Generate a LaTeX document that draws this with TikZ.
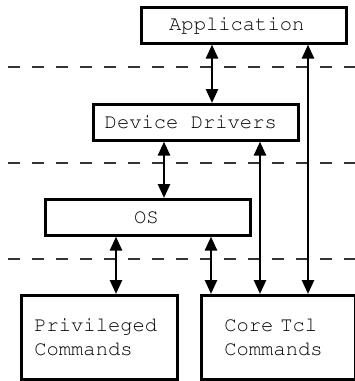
\documentclass[tikz,border=0pt]{standalone}
\usepackage[T1]{fontenc}
\usepackage{courier}
\usetikzlibrary{arrows.meta}
\begin{document}
\begin{tikzpicture}[x=1pt,y=-1pt,
  layer/.style={draw, line width=2.6pt, anchor=north west, inner sep=0pt,
    font=\ttfamily\fontsize{20.5}{24.6}\selectfont},
  widebox/.style={layer, minimum width=205pt, minimum height=36pt},
  cmdbox/.style={layer, minimum height=84pt, align=left},
  sep/.style={draw=black!80, line width=1.3pt, dash pattern=on 12pt off 12pt},
  link/.style={line width=2.6pt, {Triangle[length=14pt,width=12pt]}-{Triangle[length=14pt,width=12pt]}}]
  \useasboundingbox (0,0) rectangle (355,381);

  % layer separators
  \draw[sep] (8,67) -- (355,67);
  \draw[sep] (8,163) -- (355,163);
  \draw[sep] (8,259) -- (355,259);

  % layers
  \node[widebox] (app) at (140,6) {\hspace*{-14pt}Application};
  \node[widebox] (dd) at (92,103) {\hspace*{-10pt}Device Drivers};
  \node[widebox] (os) at (44,198) {\hspace*{-3pt}OS};
  \node[cmdbox, text width=130pt, inner xsep=13pt] (priv) at (20,294) {Privileged\\Commands};
  \node[cmdbox, text width=108pt, inner xsep=23pt] (core) at (200,294) {Core Tcl\\Commands};

  % interfaces between layers
  \draw[link] (app.south -| 212,0) -- (dd.north -| 212,0);
  \draw[link] (dd.south -| 164,0) -- (os.north -| 164,0);
  \draw[link] (os.south -| 116,0) -- (priv.north -| 116,0);
  \draw[link] (os.south -| 211,0) -- (core.north -| 211,0);
  \draw[link] (dd.south -| 260,0) -- (core.north -| 260,0);
  \draw[link] (app.south -| 308,0) -- (core.north -| 308,0);
\end{tikzpicture}
\end{document}
